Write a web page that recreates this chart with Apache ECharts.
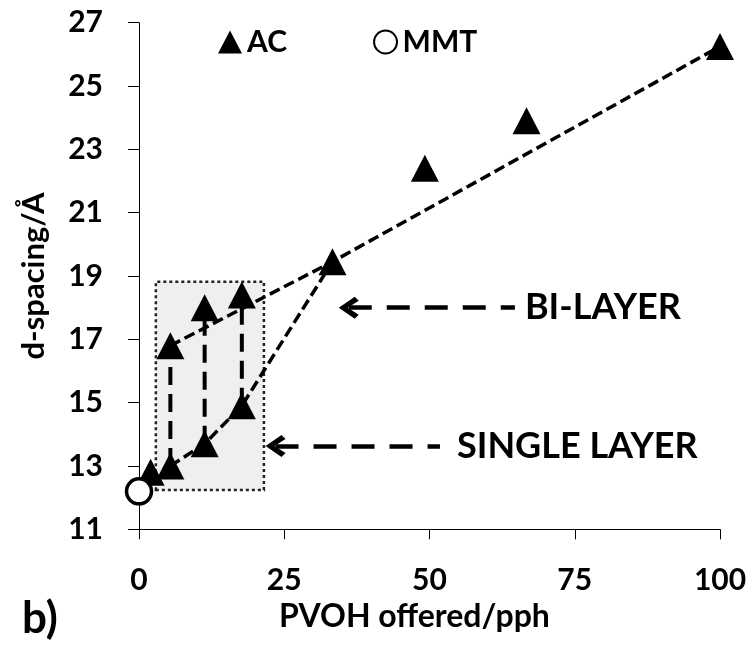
<!DOCTYPE html>
<html>
<head>
<meta charset="utf-8">
<script src="https://cdn.jsdelivr.net/npm/echarts@6/dist/echarts.min.js"></script>
<style>html,body{margin:0;padding:0;background:#fff}#c{width:753px;height:648px}</style>
</head>
<body>
<div id="c"></div>
<script>
// ---- data ----
const xTicks = [0, 25, 50, 75, 100];
const yTicks = [11, 13, 15, 17, 19, 21, 23, 25, 27];
const acX = [2, 5.4, 5.4, 11.3, 11.3, 17.7, 17.7, 33.3, 49.2, 66.7, 100];
const acY = [12.8, 13.0, 16.8, 13.7, 18.0, 14.9, 18.4, 19.45, 22.4, 23.9, 26.25];
const mmtX = [0];
const mmtY = [12.2];
const biLayerX = [5.4, 33.3, 100];
const biLayerY = [16.8, 19.45, 26.25];
const singleLayerX = [5.4, 11.3, 17.7, 33.3];
const singleLayerY = [13.0, 13.7, 14.9, 19.45];
const linkX = [5.4, 11.3, 17.7];
const linkLow = [13.0, 13.7, 14.9];
const linkHigh = [16.8, 18.0, 18.4];
const boxX = [2.9, 21.5];
const boxY = [12.24, 18.82];
const arrowLabels = ['BI-LAYER', 'SINGLE LAYER'];
const arrowY = [18.0, 13.63];
const arrowFromX = [36.1, 23.5];
const arrowToX = [64.7, 51.8];

const FONT = 'Lato';
const zip = (xs, ys) => xs.map((x, i) => [x, ys[i]]);
const chevron = 'path://M11,0 L22,16 L18,20 L11,9 L4,20 L0,16 Z';

const chart = echarts.init(document.getElementById('c'));
const series = [];

// grey box (behind everything)
series.push({
  type: 'line', data: [], z: 1, silent: true,
  markArea: {
    silent: true,
    itemStyle: { color: '#efefef', borderColor: '#222', borderWidth: 2.5, borderType: [3, 3], opacity: 1 },
    data: [[{ coord: [boxX[0], boxY[0]] }, { coord: [boxX[1], boxY[1]] }]]
  }
});

// vertical links
linkX.forEach((x, i) => {
  series.push({
    type: 'line', z: 2, silent: true, symbol: 'none',
    data: [[x, linkLow[i]], [x, linkHigh[i]]],
    lineStyle: { color: '#000', width: 4, type: [18, 9], opacity: 1 }
  });
});

// trend lines
series.push({
  type: 'line', z: 2, silent: true, symbol: 'none',
  data: zip(biLayerX, biLayerY),
  lineStyle: { color: '#000', width: 3.5, type: [11, 5], opacity: 1 }
});
series.push({
  type: 'line', z: 2, silent: true, symbol: 'none',
  data: zip(singleLayerX, singleLayerY),
  lineStyle: { color: '#000', width: 3.5, type: [11, 5], opacity: 1 }
});

// annotation arrows
arrowLabels.forEach((lab, i) => {
  series.push({
    type: 'line', data: [], z: 2, silent: true,
    markLine: {
      silent: true, animation: false,
      symbol: [chevron, 'none'], symbolSize: [22, 20],
      lineStyle: { color: '#000', width: 4.5, type: [23, 15], opacity: 1 },
      itemStyle: { color: '#000', opacity: 1 },
      label: {
        show: true, position: 'end', formatter: lab, distance: i === 0 ? 10 : 17,
        color: '#000', fontFamily: FONT, fontWeight: 'bold', fontSize: 36
      },
      data: [[{ coord: [arrowFromX[i], arrowY[i]] }, { coord: [arrowToX[i], arrowY[i]] }]]
    }
  });
});

series.push({
  name: 'AC', type: 'scatter', z: 5,
  symbol: 'triangle', symbolSize: [28, 27],
  itemStyle: { color: '#000', opacity: 1 },
  data: zip(acX, acY)
});
series.push({
  name: 'MMT', type: 'scatter', z: 6, clip: false,
  symbol: 'circle', symbolSize: 25,
  itemStyle: { color: '#fff', borderColor: '#000', borderWidth: 3.5, opacity: 1 },
  data: zip(mmtX, mmtY)
});

chart.setOption({
  animation: false,
  backgroundColor: '#fff',
  grid: { left: 139, right: 33, top: 22.7, bottom: 118.7, containLabel: false, outerBoundsMode: 'none' },
  legend: {
    data: ['AC', 'MMT'], left: 213, top: 22, itemWidth: 24, itemHeight: 23, itemGap: 86,
    textStyle: { fontFamily: FONT, fontWeight: 'bold', fontSize: 30, color: '#000' }
  },
  xAxis: {
    type: 'value', min: xTicks[0], max: xTicks[xTicks.length - 1], interval: 25,
    axisLine: { show: true, onZero: false, lineStyle: { color: '#000', width: 1 } },
    axisTick: { show: true, length: 10, inside: false, lineStyle: { color: '#000' } },
    splitLine: { show: false },
    axisLabel: { margin: 36, color: '#000', fontFamily: FONT, fontWeight: 'bold', fontSize: 30 },
    name: 'PVOH offered/pph', nameLocation: 'middle', nameGap: 66,
    nameTextStyle: { fontFamily: FONT, fontWeight: 'bold', fontSize: 32, color: '#000', padding: [0, 30, 0, 0] }
  },
  yAxis: {
    type: 'value', min: yTicks[0], max: yTicks[yTicks.length - 1],
    axisLine: { show: true, onZero: false, lineStyle: { color: '#000', width: 1 } },
    axisTick: { show: true, length: 11, inside: false, customValues: yTicks, lineStyle: { color: '#000' } },
    splitLine: { show: false },
    axisLabel: { customValues: yTicks, margin: 36, color: '#000', fontFamily: FONT, fontWeight: 'bold', fontSize: 30 },
    name: 'd-spacing/Å', nameLocation: 'middle', nameGap: 90,
    nameTextStyle: { fontFamily: FONT, fontWeight: 'bold', fontSize: 31, color: '#000' }
  },
  graphic: [{
    type: 'text', left: 22, top: 597,
    style: { text: 'b)', fontFamily: FONT, fontWeight: 'bold', fontSize: 44, fill: '#000' }
  }],
  series: series
});
</script>
</body>
</html>
